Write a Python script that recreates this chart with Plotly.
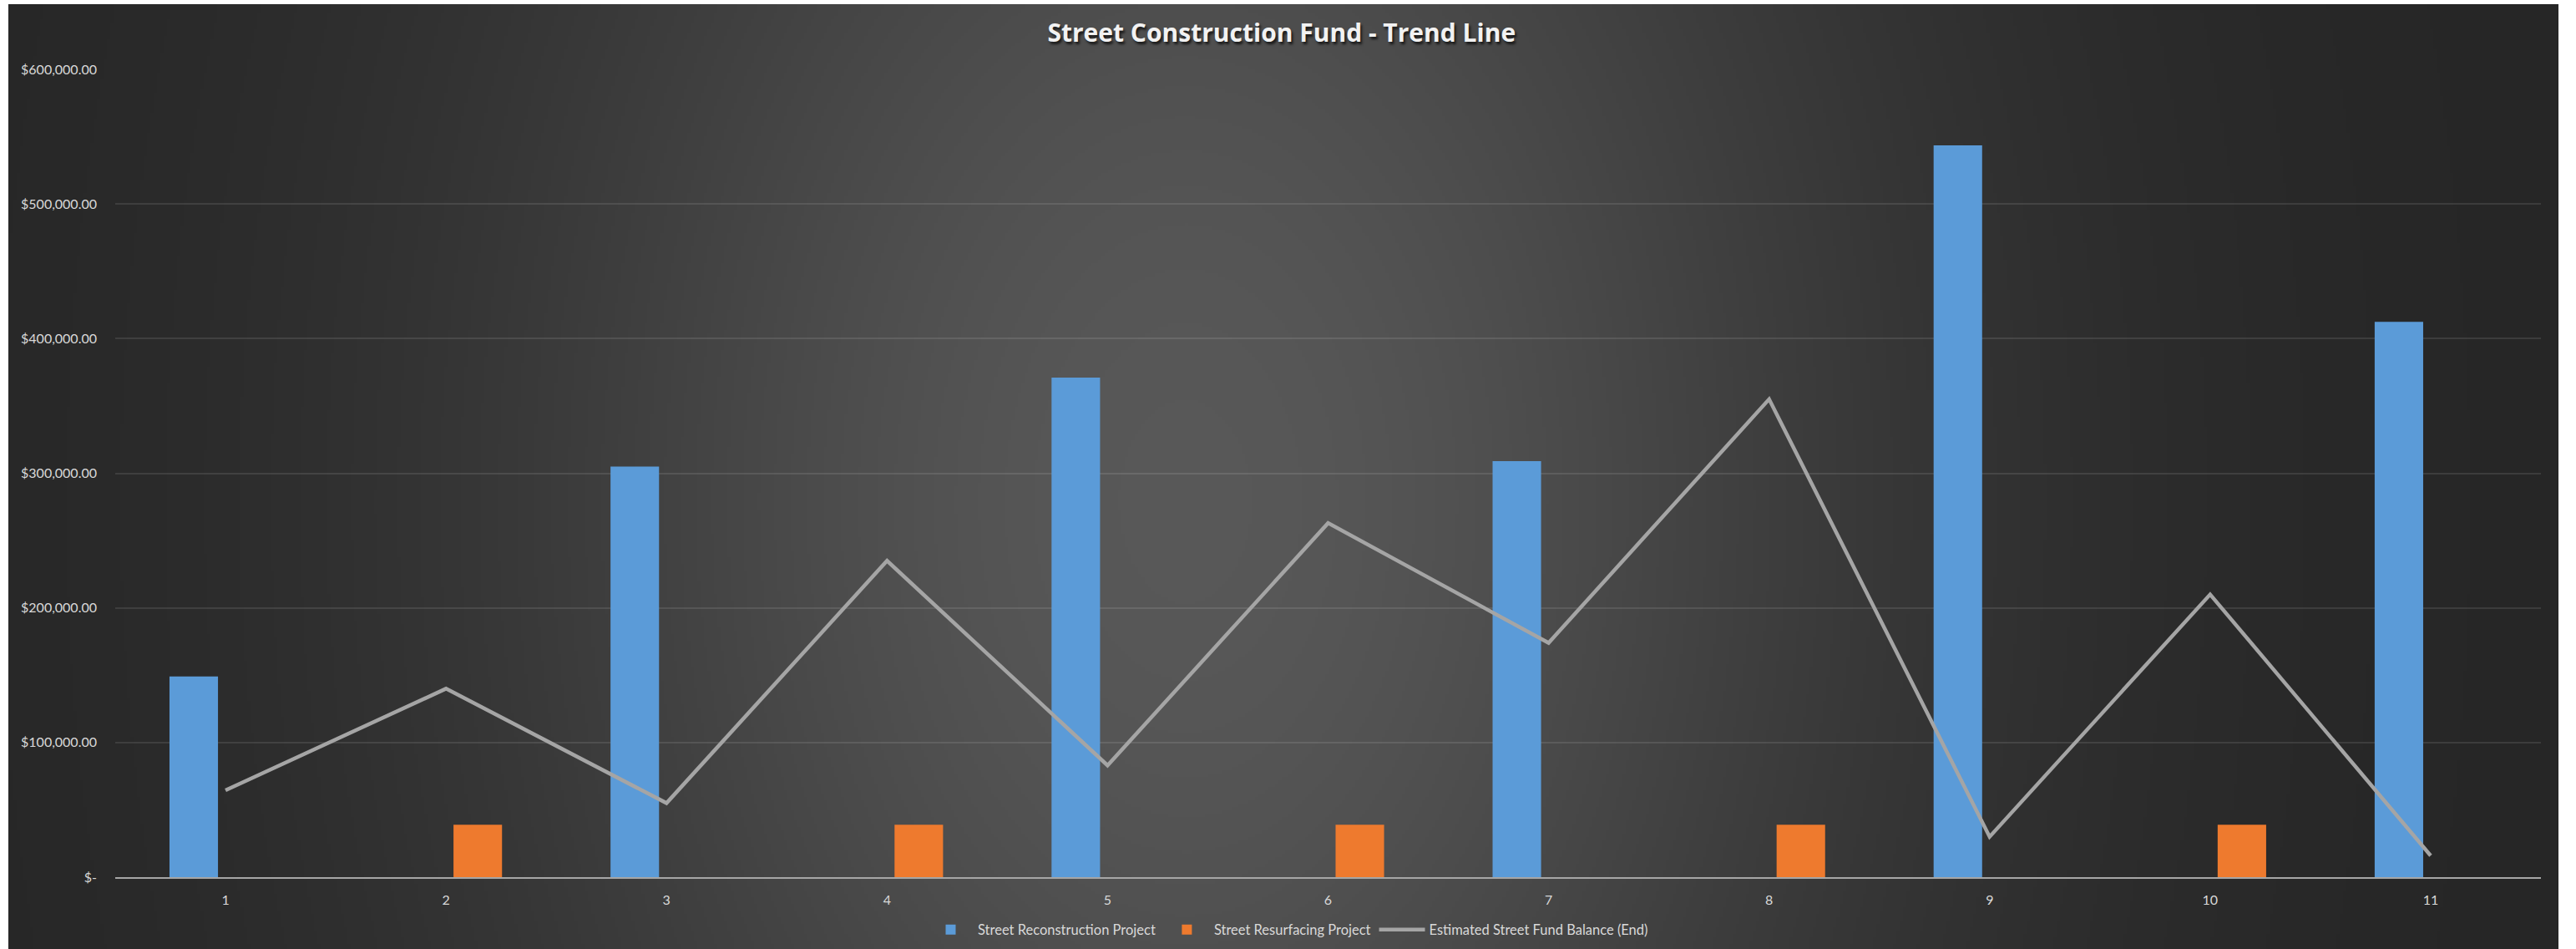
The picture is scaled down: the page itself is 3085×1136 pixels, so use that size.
import base64
import struct
import zlib

import numpy as np
import plotly.graph_objects as go

# ---------------- data ----------------
categories = [1, 2, 3, 4, 5, 6, 7, 8, 9, 10, 11]
x_tick_labels = ["1", "2", "3", "4", "5", "6", "7", "8", "9", "10", "11"]

reconstruction = [149000, None, 305000, None, 371000, None, 309000, None, 543500, None, 412500]
resurfacing = [None, 39000, None, 39000, None, 39000, None, 39000, None, 39000, None]
fund_balance = [64500, 140000, 55000, 235000, 83000, 263000, 174000, 355000, 30000, 210000, 16000]

y_tick_values = [0, 100000, 200000, 300000, 400000, 500000, 600000]
y_tick_labels = ["$-", "$100,000.00", "$200,000.00", "$300,000.00",
                 "$400,000.00", "$500,000.00", "$600,000.00"]

series_names = ["Street Reconstruction Project", "Street Resurfacing Project",
                "Estimated Street Fund Balance (End)"]
title_text = "Street Construction Fund - Trend Line"

# ---------------- geometry / style ----------------
FIG_W, FIG_H = 3085, 1136
M_L, M_R, M_T, M_B = 138, 42, 83, 86
PLOT_W = FIG_W - M_L - M_R
PLOT_H = FIG_H - M_T - M_B

# dark chart area (inside a thin white border)
AREA_X0, AREA_X1, AREA_Y0, AREA_Y1 = 10, 3064, 5, 1136


def make_background_png():
    w, h = 764, 283
    xs = AREA_X0 + (np.arange(w) + 0.5) * (AREA_X1 - AREA_X0) / w
    ys = AREA_Y0 + (np.arange(h) + 0.5) * (AREA_Y1 - AREA_Y0) / h
    X, Y = np.meshgrid(xs, ys)
    g = np.exp(-((X - 1420) / 820.0) ** 2 - ((Y - 600) / 1250.0) ** 2)
    v = 37 + 51 * g
    arr = np.clip(np.round(v), 0, 255).astype(np.uint8)
    rgb = np.stack([arr, arr, arr], axis=-1)
    raw = b"".join(b"\x00" + rgb[j].tobytes() for j in range(h))

    def chunk(tag, data):
        return (struct.pack(">I", len(data)) + tag + data
                + struct.pack(">I", zlib.crc32(tag + data) & 0xFFFFFFFF))

    png = b"\x89PNG\r\n\x1a\n"
    png += chunk(b"IHDR", struct.pack(">IIBBBBB", w, h, 8, 2, 0, 0, 0))
    png += chunk(b"IDAT", zlib.compress(raw, 9))
    png += chunk(b"IEND", b"")
    return "data:image/png;base64," + base64.b64encode(png).decode("ascii")


FONT = "Lato"
TEXT_COLOR = "#d9d9d9"

fig = go.Figure()

fig.add_trace(go.Bar(
    x=categories, y=reconstruction, name=series_names[0],
    width=0.22, offset=-0.254,
    marker=dict(color="#5b9bd8", line=dict(width=0)),
))
fig.add_trace(go.Bar(
    x=categories, y=resurfacing, name=series_names[1],
    width=0.22, offset=0.034,
    marker=dict(color="#ee7a2e", line=dict(width=0)),
))
fig.add_trace(go.Scatter(
    x=categories, y=fund_balance, name=series_names[2],
    mode="lines", line=dict(color="#a5a5a5", width=4.5),
))

fig.update_layout(
    width=FIG_W, height=FIG_H,
    margin=dict(l=M_L, r=M_R, t=M_T, b=M_B, pad=0),
    paper_bgcolor="white",
    plot_bgcolor="rgba(0,0,0,0)",
    barmode="overlay",
    showlegend=True,
    font=dict(family=FONT, size=16, color=TEXT_COLOR),
    title=dict(
        text="<b>" + title_text + "</b>",
        x=0.4975, xref="container", xanchor="center",
        y=1 - 39 / FIG_H, yref="container", yanchor="middle",
        font=dict(family="Open Sans", size=30, color="#f2f2f2",
                  shadow="2px 3px 3px rgba(0,0,0,0.7)"),
    ),
    legend=dict(
        orientation="h",
        x=0.5, xref="container", xanchor="center",
        y=1 - 1113 / FIG_H, yref="container", yanchor="middle",
        font=dict(family=FONT, size=16.5, color=TEXT_COLOR),
        bgcolor="rgba(0,0,0,0)",
        traceorder="normal",
        itemwidth=55,
    ),
    xaxis=dict(
        range=[0.5, 11.5],
        tickmode="array", tickvals=categories, ticktext=x_tick_labels,
        showgrid=False, zeroline=False,
        showline=True, linecolor="#a6a6a6", linewidth=2,
        ticks="", ticklabelstandoff=12,
        tickfont=dict(family=FONT, size=16, color=TEXT_COLOR),
        automargin=False, fixedrange=True,
    ),
    yaxis=dict(
        range=[0, 600000],
        tickmode="array", tickvals=y_tick_values, ticktext=y_tick_labels,
        showgrid=True, gridcolor="rgba(255,255,255,0.10)", gridwidth=2,
        zeroline=False, showline=False,
        ticks="", ticklabelstandoff=21,
        tickfont=dict(family=FONT, size=16, color=TEXT_COLOR),
        automargin=False, fixedrange=True,
    ),
    images=[dict(
        source=make_background_png(),
        xref="paper", yref="paper",
        x=(AREA_X0 - M_L) / PLOT_W,
        y=(FIG_H - M_B - AREA_Y0) / PLOT_H,
        sizex=(AREA_X1 - AREA_X0) / PLOT_W,
        sizey=(AREA_Y1 - AREA_Y0) / PLOT_H,
        xanchor="left", yanchor="top",
        sizing="stretch", layer="below",
    )],
)

fig.write_html("out.html")
